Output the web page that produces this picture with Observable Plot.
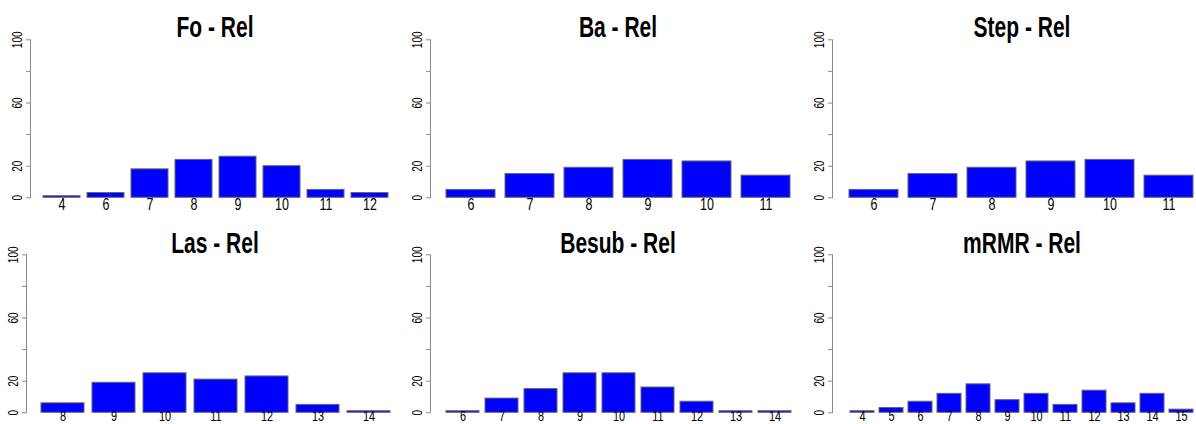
<!DOCTYPE html>
<html><head><meta charset="utf-8">
<script src="https://cdn.jsdelivr.net/npm/d3@7"></script>
<script src="https://cdn.jsdelivr.net/npm/@observablehq/plot@0.6"></script>
<style>
html,body{margin:0;padding:0;background:#fff;}
#chart{position:relative;width:1196px;height:424px;overflow:hidden;background:#fff;font-family:"Liberation Sans",Arial,sans-serif;}
.panel{position:absolute;}
.title{position:absolute;width:240px;text-align:center;font-weight:bold;font-size:30px;line-height:30px;transform:scaleX(0.7);white-space:nowrap;color:#000;}
</style></head><body><div id="chart"></div>
<script>
// Data (percent of selections per number of features)
const titles = ["Fo - Rel", "Ba - Rel", "Step - Rel", "Las - Rel", "Besub - Rel", "mRMR - Rel"];
const foK = [4, 6, 7, 8, 9, 10, 11, 12];
const foV = [1, 3, 18, 24, 26, 20, 5, 3];
const baK = [6, 7, 8, 9, 10, 11];
const baV = [5, 15, 19, 24, 23, 14];
const stepK = [6, 7, 8, 9, 10, 11];
const stepV = [5, 15, 19, 23, 24, 14];
const lasK = [8, 9, 10, 11, 12, 13, 14];
const lasV = [6, 19, 25, 21, 23, 5, 1];
const besubK = [6, 7, 8, 9, 10, 11, 12, 13, 14];
const besubV = [1, 9, 15, 25, 25, 16, 7, 1, 1];
const mrmrK = [4, 5, 6, 7, 8, 9, 10, 11, 12, 13, 14, 15];
const mrmrV = [1, 3, 7, 12, 18, 8, 12, 5, 14, 6, 12, 2];
const yTicks = [0, 20, 40, 60, 80, 100];
const yLabelled = [0, 20, 60, 100];

const keys = [foK, baK, stepK, lasK, besubK, mrmrK];
const vals = [foV, baV, stepV, lasV, besubV, mrmrV];

const rows = [
  {top: 0, mt: 39.3, mb: 14.7, titleTop: 12.1, xfs: 16, xpad: 1},
  {top: 212, mt: 42.3, mb: 11.7, titleTop: 228.3, xfs: 14, xpad: -1.5}
];
const cols = [
  [{left: 0, axis: 30, b0: 40.7, b1: 389.3}, {left: 400, axis: 30, b0: 43.3, b1: 392.7}, {left: 796, axis: 36, b0: 51, b1: 400}],
  [{left: 0, axis: 26, b0: 40.3, b1: 389.3}, {left: 400, axis: 30, b0: 43.3, b1: 392.7}, {left: 796, axis: 36, b0: 51, b1: 400}]
];

const chart = document.getElementById("chart");

for (let i = 0; i < 6; i++) {
  const r = Math.floor(i / 3), c = i % 3;
  const row = rows[r], col = cols[r][c];
  const data = keys[i].map((k, j) => ({k, v: vals[i][j]}));
  const svg = Plot.plot({
    width: 400, height: 212,
    marginTop: row.mt, marginBottom: row.mb, marginLeft: col.axis, marginRight: 0,
    style: {fontFamily: "Liberation Sans, Arial, sans-serif", background: "transparent", overflow: "visible"},
    x: {type: "band", domain: keys[i], range: [col.b0, col.b1], paddingInner: 1 / 6, paddingOuter: 0},
    y: {domain: [0, 100]},
    marks: [
      Plot.frame({anchor: "left", stroke: "#8a8a8a"}),
      Plot.barY(data, {x: "k", y: "v", fill: "#0000FF", stroke: "#666", strokeWidth: 1}),
      Plot.axisY({ticks: yTicks, tickFormat: d => yLabelled.includes(d) ? String(d) : "", tickRotate: -90,
        tickSize: 4, tickPadding: 5, fontSize: 14, stroke: "#8a8a8a", fill: "#000", label: null}),
      Plot.axisX({tickSize: 0, tickPadding: row.xpad, fontSize: row.xfs, fill: "#000", label: null})
    ]
  });
  svg.querySelectorAll('[aria-label="y-axis tick label"] text').forEach(t => {
    const tr = t.getAttribute("transform");
    if (tr) t.setAttribute("transform", tr + " scale(0.72,1)");
  });
  svg.querySelectorAll('[aria-label="x-axis tick label"] text').forEach(t => {
    const tr = t.getAttribute("transform");
    if (tr) t.setAttribute("transform", tr + " scale(0.78,1)");
  });
  const wrap = document.createElement("div");
  wrap.className = "panel";
  wrap.style.left = col.left + "px";
  wrap.style.top = row.top + "px";
  wrap.appendChild(svg);
  chart.appendChild(wrap);

  const t = document.createElement("div");
  t.className = "title";
  t.textContent = titles[i];
  t.style.left = (col.left + (col.b0 + col.b1) / 2 - 120) + "px";
  t.style.top = row.titleTop + "px";
  chart.appendChild(t);
}
</script></body></html>
